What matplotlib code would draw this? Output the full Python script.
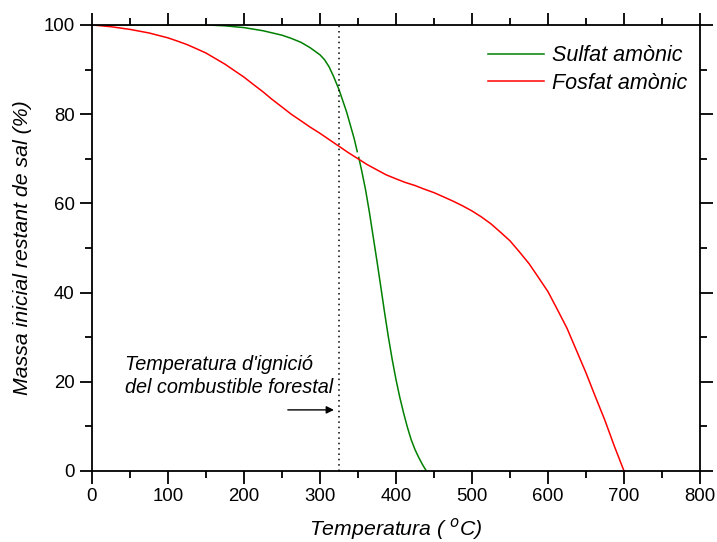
import matplotlib
matplotlib.use('Agg')
import matplotlib.pyplot as plt
from matplotlib.ticker import MultipleLocator

plt.rcParams['font.family'] = ['Liberation Sans', 'DejaVu Sans']

# Sulfat amonic (two pieces, small break near 350 C)
sulfat_t1 = [0, 50, 100, 150, 175, 200, 225, 250, 262, 275, 287, 300, 306, 312,
             318, 325, 330, 335, 340, 345, 349]
sulfat_m1 = [100, 100, 100, 100, 99.8, 99.4, 98.7, 97.7, 97.0, 96.1, 94.9, 93.3, 92.2, 90.6,
             88.4, 85.5, 83.0, 80.5, 77.5, 74.5, 71.6]
sulfat_t2 = [351, 355, 360, 365, 370, 375, 380, 385, 390, 395, 400, 405, 410, 415,
             420, 425, 430, 435, 440]
sulfat_m2 = [70.3, 67.2, 63.0, 58.0, 52.5, 47.0, 41.3, 35.5, 30.0, 25.0, 20.5, 16.5, 13.0, 9.8,
             7.0, 4.8, 3.0, 1.4, 0.0]

# Fosfat amonic
fosfat_t = [0, 25, 50, 75, 100, 112, 125, 137, 150, 162, 175, 187, 200, 212, 225, 237,
            250, 262, 275, 287, 300, 312, 325, 337, 350, 362, 375, 387, 400, 412, 425,
            437, 450, 462, 475, 487, 500, 512, 525, 537, 550, 562, 575, 587, 600,
            612, 625, 637, 650, 662, 675, 687, 700]
fosfat_m = [100, 99.6, 99.0, 98.2, 97.1, 96.4, 95.6, 94.7, 93.7, 92.5, 91.2, 89.8, 88.3, 86.7,
            85.0, 83.3, 81.6, 80.0, 78.5, 77.1, 75.7, 74.3, 72.8, 71.4, 70.0, 68.7, 67.5,
            66.4, 65.5, 64.7, 64.0, 63.2, 62.4, 61.5, 60.5, 59.5, 58.3, 57.0, 55.4, 53.6,
            51.6, 49.2, 46.5, 43.5, 40.2, 36.3, 32.0, 27.2, 22.0, 16.8, 11.3, 5.7, 0.0]

ignicio_t = 325

fig = plt.figure(figsize=(7.17, 5.42), dpi=100)
ax = fig.add_axes([0.1283, 0.131, 0.848, 0.823])

ax.plot(sulfat_t1, sulfat_m1, color='#008000', lw=1.1, label='Sulfat amònic')
ax.plot(sulfat_t2, sulfat_m2, color='#008000', lw=1.1)
ax.plot(fosfat_t, fosfat_m, color='#ff0000', lw=1.1, label='Fosfat amònic')
ax.axvline(ignicio_t, color='black', ls=(0, (1, 2.5)), lw=1.1)

ax.text(43, 21.3, "Temperatura d'ignició\ndel combustible forestal",
        fontsize=14.3, style='italic', va='center', ha='left', linespacing=1.3)
ax.annotate('', xy=(322, 13.7), xytext=(254, 13.7),
            arrowprops=dict(arrowstyle='-|>', color='black', lw=1, mutation_scale=11))

ax.set_xlim(0, 800)
ax.set_ylim(0, 100)
ax.xaxis.set_major_locator(MultipleLocator(100))
ax.xaxis.set_minor_locator(MultipleLocator(50))
ax.yaxis.set_major_locator(MultipleLocator(20))
ax.yaxis.set_minor_locator(MultipleLocator(10))
ax.tick_params(which='both', direction='out', top=True, right=True, width=1.3,
               labeltop=False, labelright=False, labelsize=13.4)
ax.tick_params(which='major', length=9)
ax.tick_params(which='minor', length=5)
for sp in ax.spines.values():
    sp.set_linewidth(1.3)

ax.set_xlabel('Temperatura ( $^{o}$C)', fontsize=15.3, style='italic', labelpad=8)
ax.set_ylabel('Massa inicial restant de sal (%)', fontsize=15.3, style='italic', labelpad=8)

ax.legend(loc='upper right', frameon=False, prop=dict(size=15.5, style='italic'),
          handlelength=2.6, handletextpad=0.4, borderaxespad=0.3, labelspacing=0.3,
          bbox_to_anchor=(1.004, 0.988))

fig.savefig('out.png', dpi=100)
